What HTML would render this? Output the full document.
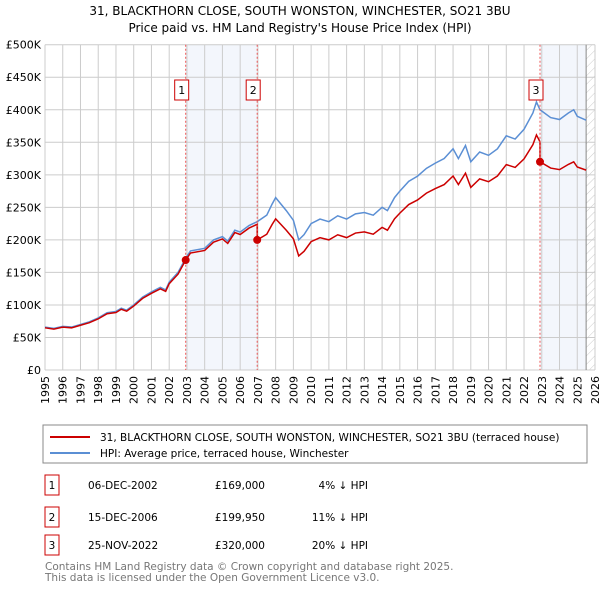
<!DOCTYPE html>
<html><head><meta charset="utf-8"><style>
body{margin:0;background:#fff;font-family:"Liberation Sans","DejaVu Sans",sans-serif;}
svg text{font-family:"DejaVu Sans","Liberation Sans",sans-serif;}
</style></head><body>
<svg id="c" width="600" height="590" xmlns="http://www.w3.org/2000/svg">
<text x="300" y="15" font-size="12" text-anchor="middle">31, BLACKTHORN CLOSE, SOUTH WONSTON, WINCHESTER, SO21 3BU</text>
<text x="300" y="32" font-size="12" text-anchor="middle">Price paid vs. HM Land Registry's House Price Index (HPI)</text>
<defs><pattern id="hatch" width="6" height="6" patternUnits="userSpaceOnUse" patternTransform="rotate(45)"><line x1="0" y1="0" x2="0" y2="6" stroke="#ccc" stroke-width="1"/></pattern></defs>
<g id="plot"></g>
<rect x="43" y="425" width="544" height="38" fill="#fff" stroke="#888"/>
<line x1="50" y1="437" x2="90" y2="437" stroke="#cc0000" stroke-width="2"/>
<text x="100" y="441" font-size="10.5">31, BLACKTHORN CLOSE, SOUTH WONSTON, WINCHESTER, SO21 3BU (terraced house)</text>
<line x1="50" y1="453" x2="90" y2="453" stroke="#5b8fd4" stroke-width="2"/>
<text x="100" y="457" font-size="10.5">HPI: Average price, terraced house, Winchester</text>
<g font-size="10.5">
<rect x="45" y="475" width="14" height="20" fill="none" stroke="#cc0000"/><text x="52" y="489" text-anchor="middle">1</text>
<text x="88" y="489">06-DEC-2002</text><text x="265" y="489" text-anchor="end">£169,000</text><text x="368" y="489" text-anchor="end">4% ↓ HPI</text>
<rect x="45" y="507" width="14" height="20" fill="none" stroke="#cc0000"/><text x="52" y="521" text-anchor="middle">2</text>
<text x="88" y="521">15-DEC-2006</text><text x="265" y="521" text-anchor="end">£199,950</text><text x="368" y="521" text-anchor="end">11% ↓ HPI</text>
<rect x="45" y="535" width="14" height="20" fill="none" stroke="#cc0000"/><text x="52" y="549" text-anchor="middle">3</text>
<text x="88" y="549">25-NOV-2022</text><text x="265" y="549" text-anchor="end">£320,000</text><text x="368" y="549" text-anchor="end">20% ↓ HPI</text>
</g>
<text x="45" y="570" font-size="10.5" fill="#777">Contains HM Land Registry data © Crown copyright and database right 2025.</text>
<text x="45" y="581" font-size="10.5" fill="#777">This data is licensed under the Open Government Licence v3.0.</text>
</svg>
<script>
const hpiYears=[1995,1995.5,1996,1996.5,1997,1997.5,1998,1998.5,1999,1999.3,1999.6,2000,2000.5,2001,2001.5,2001.8,2002,2002.5,2002.93,2003.2,2004,2004.5,2005,2005.3,2005.7,2006,2006.5,2006.96,2007.5,2007.8,2008,2008.3,2008.6,2009,2009.3,2009.6,2010,2010.5,2011,2011.5,2012,2012.5,2013,2013.5,2014,2014.3,2014.7,2015,2015.5,2016,2016.5,2017,2017.5,2018,2018.3,2018.7,2019,2019.5,2020,2020.5,2021,2021.5,2022,2022.5,2022.7,2022.9,2023.5,2024,2024.5,2024.8,2025,2025.5];
const hpiValues=[66,64,67,66,70,74,80,88,90,95,92,100,112,120,127,123,135,150,172,183,187,200,205,198,215,212,222,228,238,255,265,255,245,230,200,208,225,232,228,237,232,240,242,238,250,245,265,275,290,298,310,318,325,340,325,345,320,335,330,340,360,355,370,395,412,400,388,385,395,400,390,384];
const saleYears=[2002.93,2006.96,2022.9];
const salePrices=[169,199.95,320];
const saleLabels=["1","2","3"];
const yTicks=[0,50,100,150,200,250,300,350,400,450,500];
const yTickLabels=["£0","£50K","£100K","£150K","£200K","£250K","£300K","£350K","£400K","£450K","£500K"];
const xTicks=[];for(let y=1995;y<=2026;y++)xTicks.push(y);
const X0=45,X1=595,Y0=370,Y1=44.7;
const xs=t=>X0+(t-1995)/(2026-1995)*(X1-X0);
const ys=v=>Y0-v/500*(Y0-Y1);
const NS="http://www.w3.org/2000/svg";
const g=document.getElementById('plot');
function mk(tag,attrs){const e=document.createElementNS(NS,tag);for(const k in attrs)e.setAttribute(k,attrs[k]);g.appendChild(e);return e;}
function hpiAt(t){for(let i=0;i<hpiYears.length-1;i++){if(t<=hpiYears[i+1]){const f=(t-hpiYears[i])/(hpiYears[i+1]-hpiYears[i]);return hpiValues[i]+f*(hpiValues[i+1]-hpiValues[i]);}}return hpiValues[hpiValues.length-1];}
let e;
e=mk('rect',{x:xs(saleYears[0]),y:Y1,width:xs(saleYears[1])-xs(saleYears[0]),height:Y0-Y1,fill:'#eef2fb',opacity:0.7});

e=mk('rect',{x:xs(saleYears[2]),y:Y1,width:xs(2025.5)-xs(saleYears[2]),height:Y0-Y1,fill:'#eef2fb',opacity:0.7});

e=mk('rect',{x:xs(2025.5),y:Y1,width:X1-xs(2025.5),height:Y0-Y1,fill:'url(#hatch)'});

yTicks.forEach((v,i)=>{
 e=mk('line',{x1:X0,x2:X1,y1:ys(v),y2:ys(v),stroke:'#ccc'});
 
 e=mk('text',{x:X0-4,y:ys(v)+4,'font-size':11,'text-anchor':'end'});e.textContent=yTickLabels[i];
 
});
xTicks.forEach(t=>{
 e=mk('line',{x1:xs(t),x2:xs(t),y1:Y1,y2:Y0,stroke:'#ccc'});
 
 e=mk('text',{x:xs(t)+4,y:Y0+6,'font-size':11,'text-anchor':'end',transform:`rotate(-90 ${xs(t)+4} ${Y0+6})`});e.textContent=t;
 
});
e=mk('line',{x1:xs(2025.5),x2:xs(2025.5),y1:Y1,y2:Y0,stroke:'#888'});

e=mk('polyline',{points:hpiYears.map((t,i)=>xs(t)+','+ys(hpiValues[i])).join(' '),fill:'none',stroke:'#5b8fd4','stroke-width':1.5});

// red series: HPI indexed to the relevant sale
const pts=[];
function anchor(t){let k=0;for(let i=0;i<saleYears.length;i++)if(t>=saleYears[i])k=i;return k;}
const times=hpiYears.slice();saleYears.forEach(s=>{times.push(s-0.001);times.push(s);});times.sort((a,b)=>a-b);
times.forEach(t=>{const k=anchor(t);pts.push(xs(t)+','+ys(salePrices[k]*hpiAt(t)/hpiAt(saleYears[k])));});
e=mk('polyline',{points:pts.join(' '),fill:'none',stroke:'#cc0000','stroke-width':1.5});

saleYears.forEach((t,i)=>{
 e=mk('line',{x1:xs(t),x2:xs(t),y1:Y1,y2:Y0,stroke:'#e55','stroke-dasharray':'2,2'});
 
 e=mk('circle',{cx:xs(t),cy:ys(salePrices[i]),r:4,fill:'#cc0000'});
 
 e=mk('rect',{x:xs(t)-11,y:80,width:14,height:20,fill:'#fff',stroke:'#cc0000'});
 
 e=mk('text',{x:xs(t)-4,y:94,'font-size':11,'text-anchor':'middle'});e.textContent=saleLabels[i];
 
});
</script>
</body></html>
